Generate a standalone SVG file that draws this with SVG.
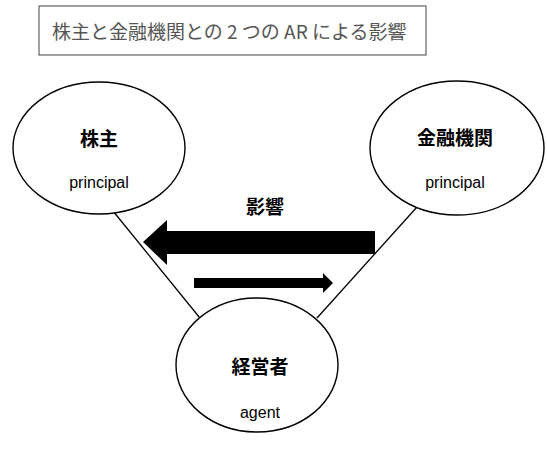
<svg xmlns="http://www.w3.org/2000/svg" width="547" height="449" viewBox="0 0 547 449">
<style>
.node ellipse{fill:#fff;stroke:#000;stroke-width:1.4}
.lbl{font-family:"Noto Sans CJK JP","Liberation Sans",sans-serif;font-size:19px;font-weight:bold;fill:#000;text-anchor:middle}
.en{font-family:"Liberation Sans",Arial,sans-serif;font-size:16px;fill:#000;text-anchor:middle}
.conn line{stroke:#000;stroke-width:1.3}
</style>
<rect width="547" height="449" fill="#fff"/>
<g id="title">
<rect x="39" y="6" width="387" height="49" fill="#fff" stroke="#444" stroke-width="1"/>
<text x="52" y="39" font-family="'Noto Sans CJK JP','Liberation Sans',sans-serif" font-size="19" fill="#555">株主と金融機関との 2 つの AR による影響</text>
</g>
<g id="connectors" class="conn">
<line x1="113" y1="211" x2="204" y2="323"/>
<line x1="417" y1="207" x2="317" y2="318"/>
</g>
<g id="arrows">
<polygon points="143,242 167,220 167,231 375,231 375,254 167,254 167,265" fill="#000"/>
<polygon points="194,278 323,278 323,273 333,283 323,293 323,288 194,288" fill="#000"/>
<text class="lbl" x="265" y="214">影響</text>
</g>
<g id="shareholder" class="node">
<ellipse cx="99" cy="148" rx="86" ry="66"/>
<text class="lbl" x="99" y="146">株主</text>
<text class="en" x="99" y="188">principal</text>
</g>
<g id="bank" class="node">
<ellipse cx="457" cy="148" rx="87" ry="67"/>
<text class="lbl" x="455" y="145">金融機関</text>
<text class="en" x="455" y="188">principal</text>
</g>
<g id="manager" class="node">
<ellipse cx="257" cy="365" rx="81" ry="67"/>
<text class="lbl" x="260" y="374">経営者</text>
<text class="en" x="260" y="418">agent</text>
</g>
</svg>
